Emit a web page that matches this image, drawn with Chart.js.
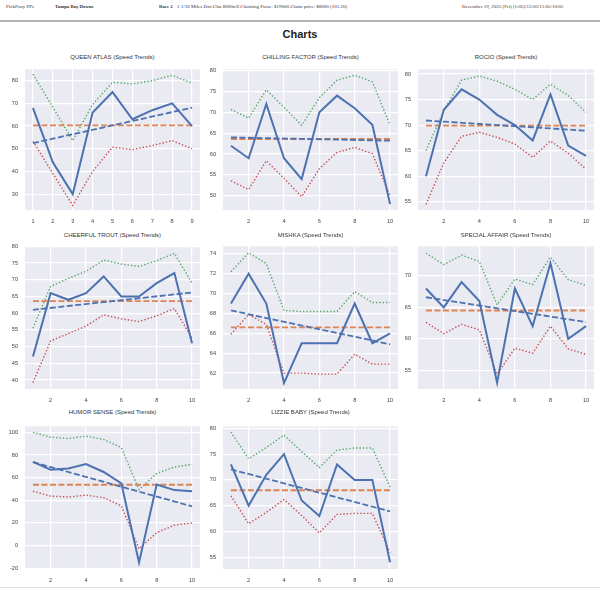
<!DOCTYPE html>
<html lang="en">
<head>
<meta charset="UTF-8">
<title>Charts</title>
<script src="https://cdn.jsdelivr.net/npm/chart.js"></script>
<style>
    body {
        margin: 0;
        background: #fff;
        font-family: "Liberation Sans", Arial, sans-serif;
    }
    #page {
        position: relative;
        width: 600px;
        height: 590px;
        overflow: hidden;
    }
    .hdr {
        position: absolute;
        top: 4px;
        font-family: "Liberation Serif", "Times New Roman", serif;
        font-size: 5px;
        line-height: 6px;
        color: #333;
        white-space: nowrap;
    }
    .hdr.b { font-weight: bold; font-size: 4.8px; }
    .rule {
        position: absolute;
        left: 0;
        top: 20px;
        width: 600px;
        height: 2px;
        background: #b4b4b4;
    }
    h1 {
        position: absolute;
        top: 27px;
        left: 0;
        width: 600px;
        margin: 0;
        text-align: center;
        font-size: 11px;
        line-height: 14px;
        color: #222;
    }
    .title {
        position: absolute;
        font-size: 6px;
        line-height: 8px;
        color: #333;
        text-align: center;
        white-space: nowrap;
    }
    canvas { position: absolute; }
    .foot {
        position: absolute;
        left: 0;
        top: 587px;
        width: 600px;
        height: 1px;
        background: #e2e2e2;
    }
</style>
</head>
<body>
<div id="page">
    <div class="hdr" style="left:6px">PickPony PPs</div>
    <div class="hdr b" style="left:55px">Tampa Bay Downs</div>
    <div class="hdr b" style="left:159px">Race 2</div>
    <div class="hdr" style="left:177px">1 1/16 Miles Dirt Clm 8000n3l Claiming Purse: $19000 Claim price: $8000 (101.20)</div>
    <div class="hdr" style="left:462px">December 19, 2025 (Fri) (1:05)/12:05/11:05/10:05</div>
    <div class="rule"></div>
    <h1>Charts</h1>
    <div class="foot"></div>
</div>

<script>
// horses, one panel each
const horseNames = ['QUEEN ATLAS', 'CHILLING FACTOR', 'ROCIO', 'CHEERFUL TROUT',
                    'MISHKA', 'SPECIAL AFFAIR', 'HUMOR SENSE', 'LIZZIE BABY'];

// speed figures per race (oldest first)
const speedFigures = [
    [68, 44, 30, 66, 75, 63, 67, 70, 60],
    [62, 59, 72, 59, 54, 70, 74, 71, 67, 48],
    [60, 73, 77, 75, 72, 70, 67, 76, 66, 64],
    [47, 66, 64, 66, 71, 65, 65, 69, 72, 51],
    [69, 72, 69, 61, 65, 65, 65, 69, 65, 66],
    [68, 65, 69, 66, 53, 68, 62, 72, 60, 62],
    [74, 67, 68, 72, 65, 55, -15, 54, 49, 48],
    [73, 65, 71, 75, 66, 63, 73, 70, 70, 54]
];

// upper / lower bands (dotted)
const upperBand = [
    [82.9, 68.3, 53.6, 69.5, 79.3, 78.6, 80.0, 82.4, 78.9],
    [70.7, 68.6, 75.4, 71.2, 66.9, 73.5, 77.7, 78.9, 77.3, 66.9],
    [65.0, 72.8, 78.8, 79.6, 78.6, 77.0, 75.0, 78.0, 75.8, 72.5],
    [55.5, 68.0, 70.4, 72.5, 75.9, 74.7, 74.0, 75.7, 77.9, 69.0],
    [72.2, 74.1, 73.0, 68.3, 68.2, 68.2, 68.2, 70.2, 69.1, 69.1],
    [73.6, 71.8, 73.3, 72.3, 65.4, 69.5, 68.6, 73.0, 69.4, 68.5],
    [100, 95.7, 94.6, 96.6, 93.7, 86.6, 49.4, 63.7, 69.4, 71.7],
    [79.3, 74.1, 76.3, 78.7, 75.5, 72.4, 75.8, 76.2, 76.2, 68.6]
];
const lowerBand = [
    [53.3, 39.1, 25.0, 40.0, 50.7, 49.6, 51.4, 53.6, 50.0],
    [53.6, 51.5, 58.4, 54.2, 49.8, 56.5, 60.4, 61.6, 60.1, 50.0],
    [54.5, 62.6, 67.8, 68.6, 67.6, 66.3, 63.7, 66.9, 64.5, 61.4],
    [39.2, 51.7, 53.9, 56.1, 59.5, 58.3, 57.5, 59.2, 61.4, 52.5],
    [65.9, 67.9, 66.9, 62.0, 62.0, 61.9, 61.9, 63.9, 62.9, 62.9],
    [62.6, 60.8, 62.3, 61.4, 54.4, 58.5, 57.7, 62.0, 58.4, 57.5],
    [48.0, 43.7, 42.9, 44.6, 42.3, 35.1, -2.9, 11.4, 18.0, 20.0],
    [66.9, 61.5, 63.7, 66.2, 63.1, 59.7, 63.3, 63.5, 63.5, 55.9]
];

// average line and trend line ends
const meanSpeed  = [60.3, 63.6, 69.9, 63.6, 66.6, 64.5, 53.7, 68.0];
const trendStart = [52.5, 64.0, 70.9, 61.0, 68.3, 66.6, 73.7, 72.05];
const trendEnd   = [68.1, 63.2, 68.9, 66.2, 64.9, 62.65, 34.6, 63.9];

// axis ranges
const yMin  = [23.0, 46.6, 53.4, 37.3, 60.4, 52.0, -20.7, 52.7];
const yMax  = [85.0, 80.3, 80.9, 80.0, 74.75, 74.7, 105.3, 80.4];
const yStep = [10, 5, 5, 5, 2, 5, 20, 5];
const xStep = [1, 2, 2, 2, 2, 2, 2, 2];

// page layout of the plot boxes
const colLeft = [25, 223, 418], colRight = [200, 398, 594];
const rowTop = [65, 242, 422], rowBottom = [210, 389, 569];
const titleY = [57, 235, 412];
const YW = 26, PT = 6, PR = 5, XH = 18;

const BLUE = '#4C72B0', ORANGE = '#DD8452', GREEN = '#55A868', RED = '#C44E52';

const plotBg = {
    id: 'plotBg',
    beforeDraw(chart) {
        const a = chart.chartArea, ctx = chart.ctx;
        ctx.save();
        ctx.fillStyle = '#EAEAF2';
        ctx.fillRect(a.left, a.top, a.width, a.height);
        ctx.restore();
    }
};

const page = document.getElementById('page');

horseNames.forEach((name, i) => {
    const col = i % 3, row = Math.floor(i / 3);
    const pw = colRight[col] - colLeft[col];
    const ph = rowBottom[row] - rowTop[row];

    const t = document.createElement('div');
    t.className = 'title';
    t.textContent = name + ' (Speed Trends)';
    t.style.left = colLeft[col] + 'px';
    t.style.width = pw + 'px';
    t.style.top = (titleY[row] - 4) + 'px';
    page.appendChild(t);

    const cv = document.createElement('canvas');
    cv.width = pw + YW + PR;
    cv.height = ph + PT + XH;
    cv.style.left = (colLeft[col] - YW) + 'px';
    cv.style.top = (rowTop[row] - PT) + 'px';
    page.appendChild(cv);

    const n = speedFigures[i].length;
    const pts = arr => arr.map((v, k) => ({x: k + 1, y: v}));
    const pad = (n - 1) * 0.05;

    new Chart(cv, {
        type: 'line',
        data: {
            datasets: [
                { data: pts(speedFigures[i]), borderColor: BLUE, borderWidth: 2 },
                { data: [{x: 1, y: trendStart[i]}, {x: n, y: trendEnd[i]}],
                  borderColor: BLUE, borderWidth: 1.8, borderDash: [6, 2.5] },
                { data: [{x: 1, y: meanSpeed[i]}, {x: n, y: meanSpeed[i]}],
                  borderColor: ORANGE, borderWidth: 1.9, borderDash: [6, 2.5] },
                { data: pts(upperBand[i]), borderColor: GREEN, borderWidth: 1.4, borderDash: [1.4, 2] },
                { data: pts(lowerBand[i]), borderColor: RED, borderWidth: 1.4, borderDash: [1.4, 2] }
            ]
        },
        options: {
            responsive: false,
            animation: false,
            layout: { padding: { top: PT, right: PR, left: 0, bottom: 0 } },
            elements: { point: { radius: 0 }, line: { tension: 0, fill: false } },
            plugins: { legend: { display: false }, tooltip: { enabled: false } },
            scales: {
                x: {
                    type: 'linear',
                    min: 1 - pad,
                    max: n + pad,
                    afterFit: s => { s.height = XH; },
                    border: { display: false },
                    grid: { color: '#fff', lineWidth: 1.2, drawTicks: false },
                    ticks: { stepSize: xStep[i], includeBounds: false, padding: 8.5,
                             color: '#444', font: { size: 5.6, family: '"Liberation Sans", Arial, sans-serif' } }
                },
                y: {
                    min: yMin[i],
                    max: yMax[i],
                    afterFit: s => { s.width = YW; },
                    border: { display: false },
                    grid: { color: '#fff', lineWidth: 1.2, drawTicks: false },
                    ticks: { stepSize: yStep[i], includeBounds: false, padding: 7,
                             color: '#444', font: { size: 5.6, family: '"Liberation Sans", Arial, sans-serif' } }
                }
            }
        },
        plugins: [plotBg]
    });
});
</script>
</body>
</html>
